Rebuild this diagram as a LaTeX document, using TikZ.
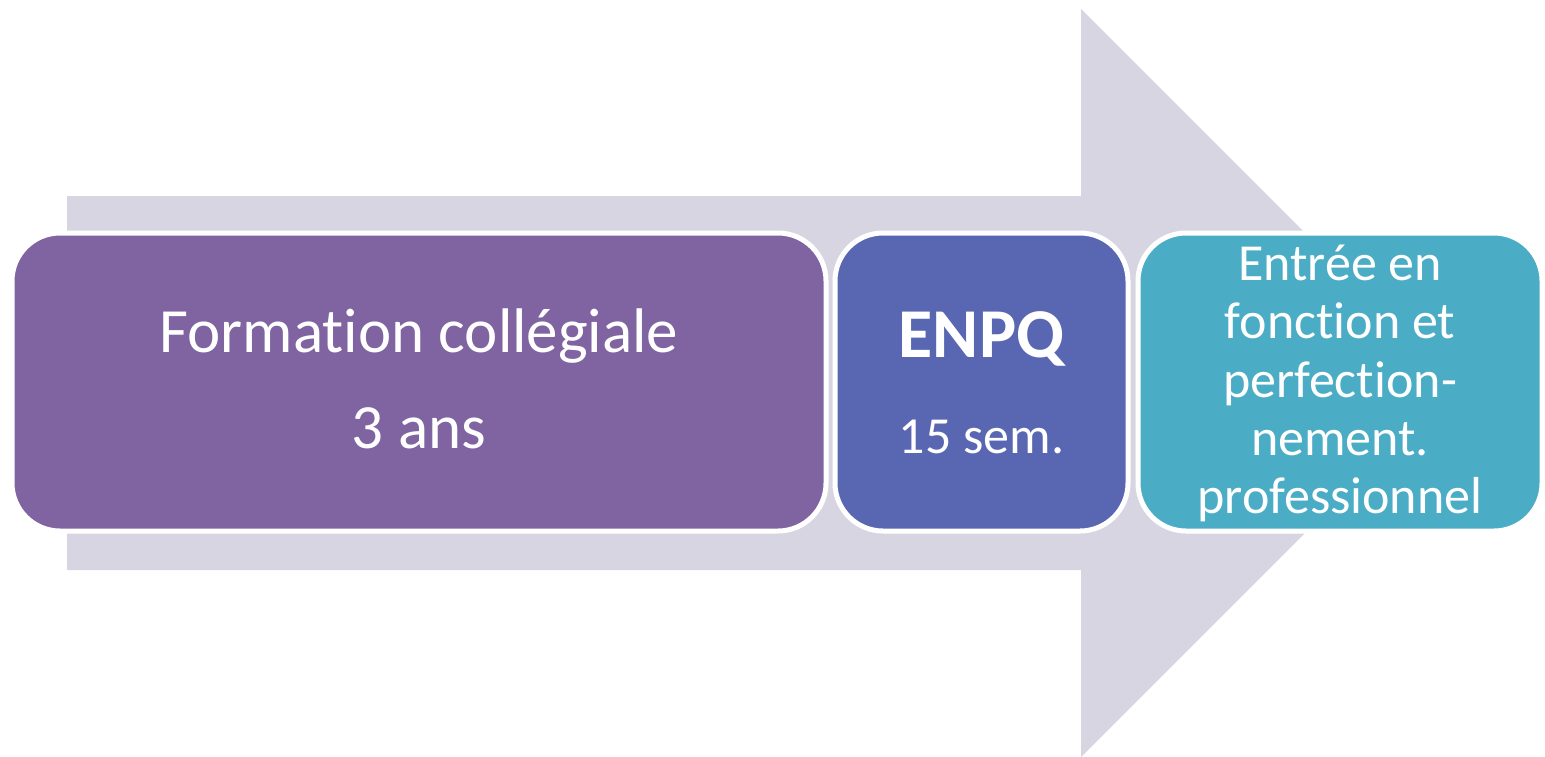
\documentclass[tikz,border=0pt]{standalone}
\usepackage{fontspec}
\setmainfont{Carlito}[Ligatures=NoCommon]
\definecolor{arrowgray}{HTML}{D8D5E3}
\definecolor{cpurple}{HTML}{8064A2}
\definecolor{cblue}{HTML}{5967B2}
\definecolor{cteal}{HTML}{4BACC6}
\tikzset{
  stagebox/.style={draw=white, line width=5pt, rounded corners=48pt, inner sep=0pt, minimum height=298pt, anchor=center},
  lbl/.style={text=white, inner sep=0pt, anchor=base},
  bigtxt/.style={lbl, font=\fontsize{63}{76}\selectfont},
  midtxt/.style={lbl, font=\fontsize{52}{62}\selectfont},
  boldtxt/.style={lbl, font=\fontsize{70}{84}\selectfont\bfseries},
}
\begin{document}
\begin{tikzpicture}[x=1pt,y=-1pt]
\useasboundingbox (0,0) rectangle (1545,756);
\begin{scope}
\clip (0,0) rectangle (1545,756);
\fill[arrowgray] (67,196) -- (1081,196) -- (1081,9) -- (1455,383) -- (1081,757) -- (1081,570) -- (67,570) -- cycle;
\end{scope}
\node[stagebox, fill=cpurple, minimum width=814pt] (b1) at (419,382) {};
\node[stagebox, fill=cblue, minimum width=293pt] (b2) at (981.5,382) {};
\node[stagebox, fill=cteal, minimum width=404pt] (b3) at (1340,382) {};
\node[bigtxt] (t1a) at (419,352) {Formation collégiale};
\node[bigtxt] (t1b) at (419,448) {3 ans};
\node[boldtxt] (t2a) at (981.5,357) {ENPQ};
\node[midtxt] (t2b) at (981.5,453) {15 sem.};
\node[midtxt] (t3a) at (1340,280) {Entrée en};
\node[midtxt] (t3b) at (1340,338) {fonction et};
\node[midtxt] (t3c) at (1340,397) {perfection-};
\node[midtxt] (t3d) at (1340,455) {nement.};
\node[midtxt] (t3e) at (1340,513) {professionnel};
\end{tikzpicture}
\end{document}
